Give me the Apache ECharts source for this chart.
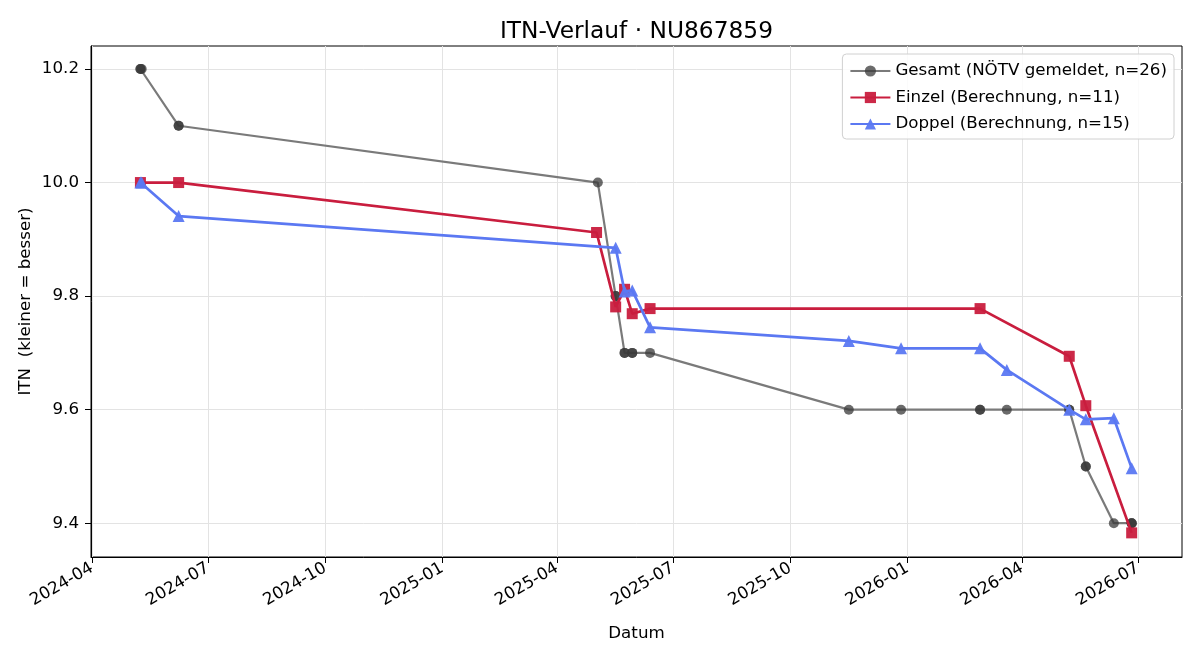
<!DOCTYPE html>
<html>
<head>
<meta charset="utf-8">
<script src="https://cdn.jsdelivr.net/npm/echarts@6/dist/echarts.min.js"></script>
<style>html,body{margin:0;padding:0;background:#fff}#c{width:1200px;height:660px}</style>
</head>
<body>
<div id="c"></div>
<script>
// ---- data ----
const titleText = 'ITN-Verlauf · NU867859';
const xTickLabels = ['2024-04','2024-07','2024-10','2025-01','2025-04','2025-07','2025-10','2026-01','2026-04','2026-07'];
const yTickValues = [9.4, 9.6, 9.8, 10.0, 10.2];

const gesamtDates = ['2024-05-09','2024-05-09','2024-05-10','2024-06-08','2024-06-08','2025-05-03','2025-05-17','2025-05-17',
  '2025-05-24','2025-05-24','2025-05-30','2025-05-30','2025-06-13','2025-11-16','2025-12-27','2026-02-27','2026-02-27',
  '2026-03-20','2026-05-08','2026-05-08','2026-05-21','2026-05-21','2026-06-12','2026-06-26','2026-06-26','2026-06-26'];
const gesamtValues = [10.2,10.2,10.2,10.1,10.1,10.0,9.8,9.8,
  9.7,9.7,9.7,9.7,9.7,9.6,9.6,9.6,9.6,
  9.6,9.6,9.6,9.5,9.5,9.4,9.4,9.4,9.4];

const einzelDates = ['2024-05-09','2024-06-08','2025-05-02','2025-05-17','2025-05-24','2025-05-30','2025-06-13','2026-02-27','2026-05-08','2026-05-21','2026-06-26'];
const einzelValues = [10.0,10.0,9.912,9.781,9.812,9.769,9.778,9.778,9.694,9.607,9.383];

const doppelDates = ['2024-05-09','2024-05-10','2024-06-08','2025-05-17','2025-05-24','2025-05-30','2025-06-13','2025-11-16','2025-12-27','2026-02-27','2026-03-20','2026-05-08','2026-05-21','2026-06-12','2026-06-26'];
const doppelValues = [10.0,10.0,9.941,9.885,9.808,9.81,9.745,9.721,9.708,9.708,9.670,9.600,9.583,9.585,9.497];

const seriesNames = ['Gesamt (NÖTV gemeldet, n=26)','Einzel (Berechnung, n=11)','Doppel (Berechnung, n=15)'];

// ---- helpers ----
function ts(s){ const p = s.split('-').map(Number); return Date.UTC(p[0], p[1]-1, p[2] || 1); }
function pairs(d, v){ return d.map((x,i)=>[ts(x), v[i]]); }
const xTickValues = xTickLabels.map(ts);
const FONT = 'DejaVu Sans';
const FS = 16.7;

const chart = echarts.init(document.getElementById('c'), null, {renderer:'canvas'});
chart.setOption({
  animation: false,
  backgroundColor: '#fff',
  textStyle: {fontFamily: FONT, fontSize: FS},
  title: {
    text: titleText, left: 495, top: 15,
    textStyle: {fontFamily: FONT, fontSize: 23.3, fontWeight: 'normal', color: '#000'}
  },
  grid: {left: 91, right: 18, top: 46, bottom: 103, containLabel: false,
         show: true, borderColor: '#000', borderWidth: 1, backgroundColor: 'transparent'},
  legend: {
    orient: 'vertical', right: 26, top: 54,
    backgroundColor: 'rgba(255,255,255,0.85)', borderColor: '#d0d0d0', borderWidth: 1, borderRadius: 4,
    padding: [7, 7, 5, 7], itemGap: 6.5, itemWidth: 40, itemHeight: 14,
    textStyle: {fontFamily: FONT, fontSize: FS, lineHeight: 20, color: '#000'},
    data: seriesNames
  },
  xAxis: {
    type: 'value',
    min: ts('2024-03-31') + 5*3600*1000,
    max: ts('2026-08-04') + 12*3600*1000,
    name: 'Datum', nameLocation: 'middle', nameGap: 68,
    nameTextStyle: {fontFamily: FONT, fontSize: FS, color: '#000'},
    axisLine: {show: true, onZero: false, lineStyle: {color: '#000', width: 1}},
    axisTick: {show: true, length: 6, lineStyle: {color: '#000'}, customValues: xTickValues},
    axisLabel: {
      customValues: xTickValues, rotate: 30, margin: 10, showMinLabel: true, showMaxLabel: true,
      fontFamily: FONT, fontSize: FS, color: '#000',
      formatter: function(v){ const d = new Date(v); return d.getUTCFullYear() + '-' + String(d.getUTCMonth()+1).padStart(2,'0'); }
    },
    splitLine: {show: true, lineStyle: {color: '#e3e3e3', width: 1}}
  },
  yAxis: {
    type: 'value', min: 9.3405, max: 10.2405,
    name: 'ITN  (kleiner = besser)', nameLocation: 'middle', nameGap: 57, nameMoveOverlap: false,
    nameTextStyle: {fontFamily: FONT, fontSize: FS, color: '#000'},
    axisLine: {show: true, lineStyle: {color: '#000', width: 1}},
    axisTick: {show: true, length: 6, lineStyle: {color: '#000'}, customValues: yTickValues},
    axisLabel: {
      customValues: yTickValues, margin: 12,
      fontFamily: FONT, fontSize: FS, color: '#000',
      formatter: function(v){ return Number(v).toFixed(1); }
    },
    splitLine: {show: true, lineStyle: {color: '#e3e3e3', width: 1}}
  },
  series: [
    {
      name: seriesNames[0], type: 'line', data: pairs(gesamtDates, gesamtValues),
      symbol: 'circle', symbolSize: 10, showAllSymbol: true,
      lineStyle: {color: '#7a7a7a', width: 2.2},
      itemStyle: {color: '#3a3a3a', opacity: 0.75},
      z: 2
    },
    {
      name: seriesNames[1], type: 'line', data: pairs(einzelDates, einzelValues),
      symbol: 'rect', symbolSize: 11, showAllSymbol: true,
      lineStyle: {color: '#c91d3e', width: 2.7},
      itemStyle: {color: '#c91d3e', opacity: 0.95},
      z: 3
    },
    {
      name: seriesNames[2], type: 'line', data: pairs(doppelDates, doppelValues),
      symbol: 'triangle', symbolSize: 12, showAllSymbol: true,
      lineStyle: {color: '#5b78f2', width: 2.7},
      itemStyle: {color: '#5b78f2', opacity: 0.95},
      z: 4
    }
  ]
});
</script>
</body>
</html>
